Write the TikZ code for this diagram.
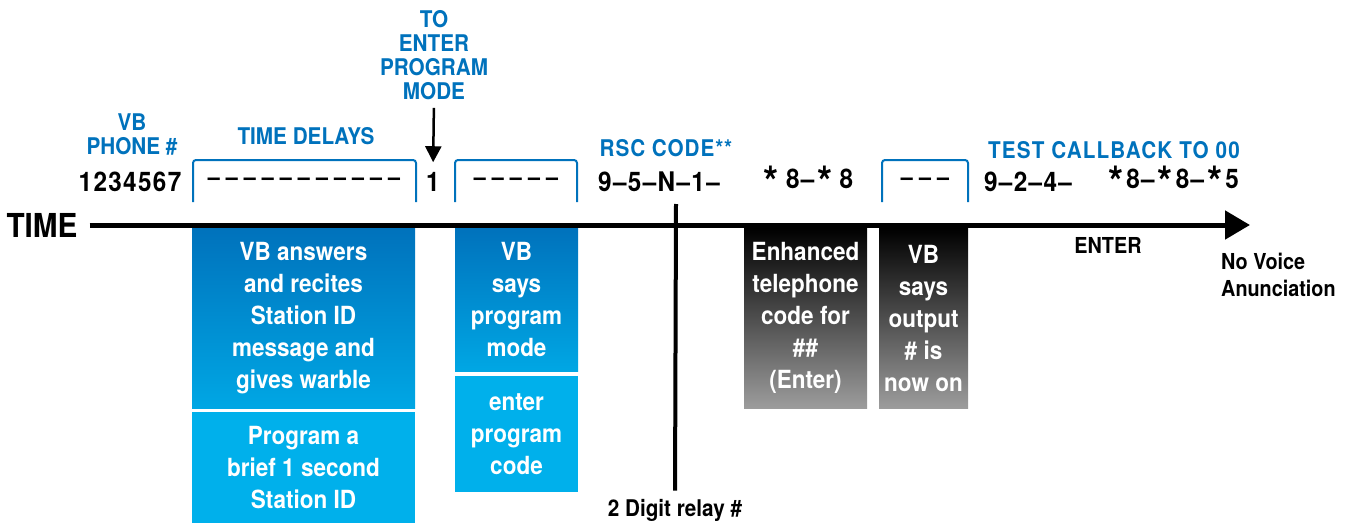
\documentclass[tikz,border=0pt]{standalone}
\usepackage{fontspec}
\setmainfont{TeX Gyre Heros}[FakeStretch=0.9]
\usetikzlibrary{arrows.meta,positioning}
\definecolor{vbblue}{HTML}{0072BC}
\definecolor{vbsky}{HTML}{00B0EB}
\definecolor{vbgrey}{HTML}{9C9C9C}
\newcommand{\st}{\hspace{3pt}\raisebox{-0.62ex}{\scalebox{1.6}{*}}\hspace{3pt}}

\begin{document}
\begin{tikzpicture}[x=1pt,y=-1pt,
    hdr/.style={text=vbblue, align=center, inner sep=0pt, font=\fontsize{23}{24}\selectfont\bfseries},
    code/.style={inner sep=0pt, font=\fontsize{27}{28}\selectfont\bfseries\addfontfeature{LetterSpace=5}},
    dashes/.style={inner sep=0pt, font=\fontsize{24}{28}\selectfont\bfseries},
    note/.style={inner sep=0pt, font=\fontsize{22}{27}\selectfont\bfseries},
    boxtxt/.style={text=white, align=center, inner sep=0pt, font=\fontsize{25}{32}\selectfont\bfseries},
    bluegrad/.style={boxtxt, top color=vbblue, bottom color=vbsky!85!vbblue},
    bluesolid/.style={boxtxt, fill=vbsky},
    greygrad/.style={boxtxt, top color=black, bottom color=vbgrey},
    bracket/.style={draw=vbblue, line width=2pt, rounded corners=3pt},
    ]
    \useasboundingbox (0,0) rectangle (1353,527);

    % time axis
    \node[inner sep=0pt, font=\fontsize{33}{33}\selectfont\bfseries] (time) at (42,225) {TIME};
    \coordinate (tip) at (1250,225);
    \draw[line width=5pt, -{Triangle[length=25pt,width=28pt]}, shorten <=12pt] (time.east) -- (tip);

    % headings
    \node[hdr] (phone) at (132,134) {VB\\PHONE \#};
    \node[hdr] (delays) at (306,136) {TIME DELAYS};
    \node[hdr] (enter) at (434,55) {TO\\ENTER\\PROGRAM\\MODE};
    \node[hdr] (rsc) at (666,148) {\addfontfeature{LetterSpace=4}RSC CODE**};
    \node[hdr] (test) at (1114,150) {\addfontfeature{LetterSpace=5}TEST CALLBACK TO 00};

    % key sequence
    \node[code] (num) at (130,182) {1234567};
    \node[dashes] (d1) at (304,182) {-- -- -- -- -- -- -- -- -- -- --};
    \node[code] (one) at (433,182) {1};
    \node[dashes] (d2) at (516,182) {-- -- -- -- --};
    \node[code] (rscnum) at (659,182) {9--5--N--1--};
    \node[code] (star) at (807,182) {\st\hspace{4pt}8--\st\hspace{4pt}8};
    \node[dashes] (d3) at (925,182) {-- -- --};
    \node[code] (callnum) at (1028,182) {9--2--4--};
    \node[code] (callstar) at (1172,182) {\st8--\st8--\st5};

    % brackets
    \draw[bracket] (193,202) |- (304,160) -| (416,202);
    \draw[bracket] (455,202) |- (516,160) -| (577,202);
    \draw[bracket] (882,202) |- (925,160) -| (968,202);

    \draw[line width=2.5pt, -{Triangle[length=16pt,width=16pt]}, shorten <=8pt, shorten >=10pt] (enter.south) -- (one.north);

    % boxes under the axis
    \node[bluegrad, minimum width=223pt, minimum height=180pt] (answer) at (303.5,318)
        {VB answers\\and recites\\Station ID\\message and\\gives warble};
    \node[bluesolid, minimum width=223pt, minimum height=111pt] (brief) at (303.5,467.5)
        {Program a\\brief 1 second\\Station ID};
    \node[bluegrad, minimum width=123pt, minimum height=143pt] (says) at (516.5,299.5)
        {VB\\says\\program\\mode};
    \node[bluesolid, minimum width=123pt, minimum height=116pt] (code) at (516.5,434)
        {enter\\program\\code};
    \node[greygrad, minimum width=123pt, minimum height=180pt] (enh) at (805.5,318)
        {Enhanced\\telephone\\code for\\\#\#\\(Enter)};
    \node[greygrad, minimum width=89pt, minimum height=180pt] (output) at (923.5,318)
        {VB\\says\\output\\\# is\\now on};

    % relay marker
    \coordinate (rtop) at (676,204);
    \node[inner sep=0pt, font=\fontsize{23}{23}\selectfont\bfseries] (relay) at (675,510) {2 Digit relay \#};
    \draw[line width=4pt, shorten >=8pt] (rtop) -- (relay.north);

    \node[note] (enterkey) at (1108,245) {ENTER};
    \node[note, align=left, anchor=west] (novoice) at (1221,275) {No Voice\\Anunciation};
\end{tikzpicture}
\end{document}
